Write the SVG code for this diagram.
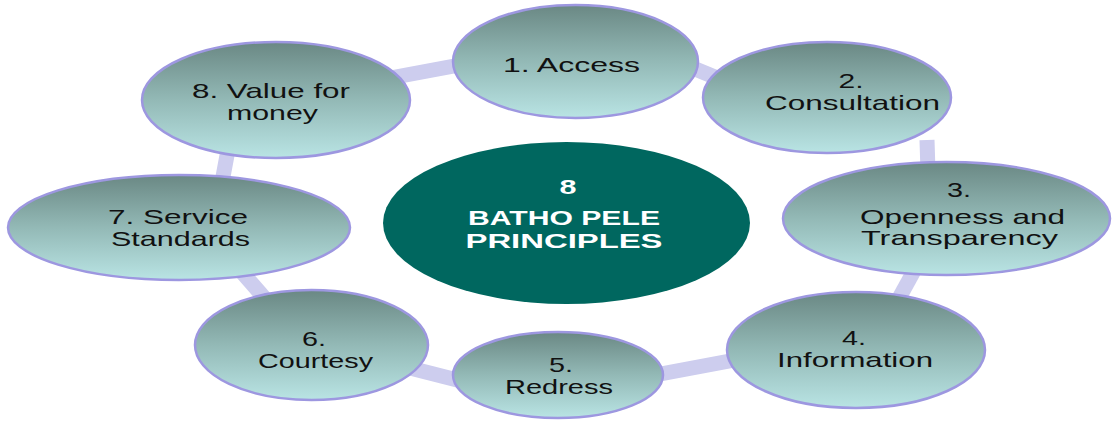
<svg xmlns="http://www.w3.org/2000/svg" width="1112" height="421" viewBox="0 0 1112 421">
<defs>
<linearGradient id="g" x1="0" y1="0" x2="0" y2="1">
<stop offset="0" stop-color="#6a8884"/>
<stop offset="0.5" stop-color="#93b9b6"/>
<stop offset="1" stop-color="#b9e4e4"/>
</linearGradient>
</defs>
<style>
.n{fill:url(#g);stroke:#9d97e0;stroke-width:2.5}
.t{font-family:"Liberation Sans",Arial,sans-serif;font-size:21px;fill:#111;text-anchor:middle}
.c{font-family:"Liberation Sans",Arial,sans-serif;font-size:21px;font-weight:bold;fill:#fff;text-anchor:middle}
.r{stroke:#cdcdee;stroke-width:15;fill:none}
</style>
<rect width="1112" height="421" fill="#fff"/>
<g id="connectors">
<line class="r" x1="390" y1="78" x2="465" y2="64"/>
<line class="r" x1="688" y1="66" x2="722" y2="80"/>
<line class="r" x1="927" y1="140" x2="928" y2="172"/>
<line class="r" x1="920" y1="260" x2="898" y2="300"/>
<line class="r" x1="655" y1="375" x2="735" y2="360"/>
<line class="r" x1="410" y1="368" x2="465" y2="382"/>
<line class="r" x1="240" y1="270" x2="268" y2="302"/>
<line class="r" x1="228" y1="150" x2="222" y2="182"/>
</g>
<g id="center">
<ellipse cx="566.5" cy="223" rx="183.5" ry="81" fill="#00675f"/>
<text class="c" x="568" y="194" textLength="17" lengthAdjust="spacingAndGlyphs">8</text>
<text class="c" x="564" y="225" textLength="192" lengthAdjust="spacingAndGlyphs">BATHO PELE</text>
<text class="c" x="564" y="248" textLength="197" lengthAdjust="spacingAndGlyphs">PRINCIPLES</text>
</g>
<g id="n1">
<ellipse class="n" cx="575.5" cy="61.5" rx="122.5" ry="56.5"/>
<text class="t" x="571.5" y="72" textLength="137" lengthAdjust="spacingAndGlyphs">1. Access</text>
</g>
<g id="n2">
<ellipse class="n" cx="827" cy="97.5" rx="124" ry="55.5"/>
<text class="t" x="851" y="88" textLength="25" lengthAdjust="spacingAndGlyphs">2.</text>
<text class="t" x="852.5" y="110" textLength="175" lengthAdjust="spacingAndGlyphs">Consultation</text>
</g>
<g id="n3">
<ellipse class="n" cx="946.5" cy="218.5" rx="163.5" ry="56.5"/>
<text class="t" x="959" y="197" textLength="24" lengthAdjust="spacingAndGlyphs">3.</text>
<text class="t" x="962.5" y="224" textLength="205" lengthAdjust="spacingAndGlyphs">Openness and</text>
<text class="t" x="959.5" y="245" textLength="197" lengthAdjust="spacingAndGlyphs">Transparency</text>
</g>
<g id="n4">
<ellipse class="n" cx="856" cy="350" rx="129" ry="58"/>
<text class="t" x="854" y="345" textLength="24" lengthAdjust="spacingAndGlyphs">4.</text>
<text class="t" x="855" y="367" textLength="156" lengthAdjust="spacingAndGlyphs">Information</text>
</g>
<g id="n5">
<ellipse class="n" cx="558" cy="375" rx="105" ry="43"/>
<text class="t" x="561" y="372" textLength="24" lengthAdjust="spacingAndGlyphs">5.</text>
<text class="t" x="559" y="394" textLength="108" lengthAdjust="spacingAndGlyphs">Redress</text>
</g>
<g id="n6">
<ellipse class="n" cx="311.5" cy="345" rx="116.5" ry="55"/>
<text class="t" x="314" y="346" textLength="24" lengthAdjust="spacingAndGlyphs">6.</text>
<text class="t" x="315.5" y="368" textLength="115" lengthAdjust="spacingAndGlyphs">Courtesy</text>
</g>
<g id="n7">
<ellipse class="n" cx="179" cy="227.5" rx="171" ry="52.5"/>
<text class="t" x="178" y="224" textLength="140" lengthAdjust="spacingAndGlyphs">7. Service</text>
<text class="t" x="180.5" y="246" textLength="139" lengthAdjust="spacingAndGlyphs">Standards</text>
</g>
<g id="n8">
<ellipse class="n" cx="276" cy="100" rx="134" ry="58"/>
<text class="t" x="271" y="98" textLength="158" lengthAdjust="spacingAndGlyphs">8. Value for</text>
<text class="t" x="272.5" y="120" textLength="91" lengthAdjust="spacingAndGlyphs">money</text>
</g>
</svg>
